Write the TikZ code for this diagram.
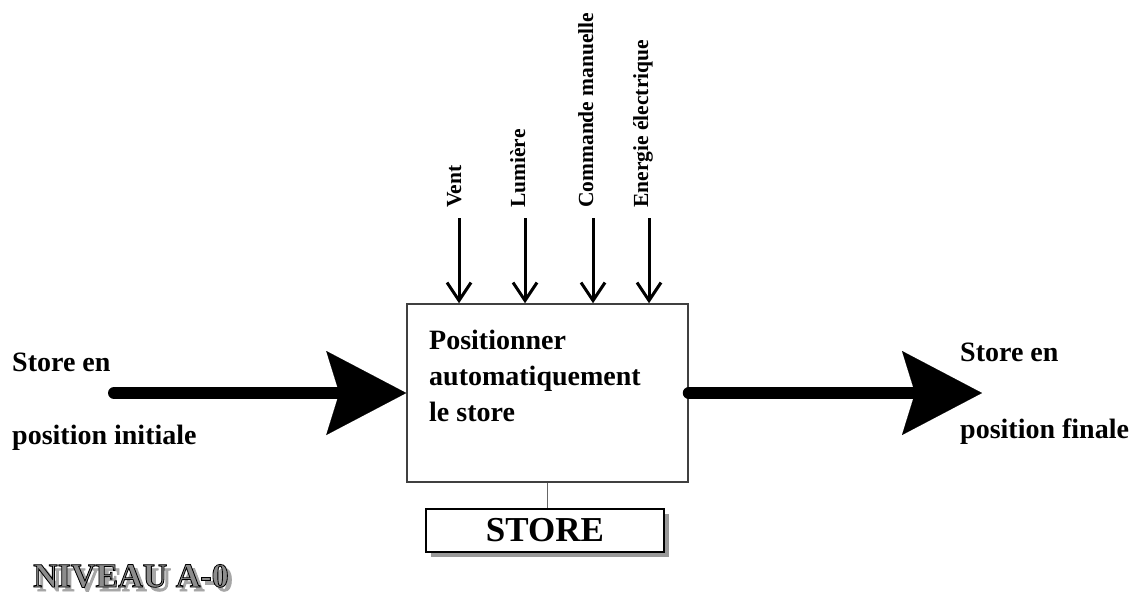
\documentclass[tikz,border=0pt]{standalone}
\usepackage{fontspec}
\setmainfont{Liberation Serif}
\newfontfamily\nivfont[FakeBold=2.5]{Liberation Serif Bold}
\usetikzlibrary{arrows.meta,shadows}
\begin{document}
\begin{tikzpicture}[x=1pt,y=-1pt,
  lbl/.style={font=\fontsize{28}{34}\selectfont\bfseries, inner sep=0pt, anchor=base west},
  vlbl/.style={font=\fontsize{21.5}{25}\selectfont\bfseries, inner sep=0pt, rotate=90, anchor=base west},
  bigarrow/.style={line width=12pt, line cap=round, -{Stealth[length=80pt,width=84pt,inset=13pt,line width=0.1pt]}},
  inarrow/.style={line width=3pt, -{Straight Barb[length=18pt,width=24pt]}},
  funcbox/.style={draw=black!75, line width=1.5pt, minimum width=281pt, minimum height=178pt, inner sep=0pt},
  supportbox/.style={draw=black, line width=2.5pt, fill=white, minimum width=238pt, minimum height=43pt, inner sep=0pt,
    font=\fontsize{35}{40}\selectfont\bfseries,
    drop shadow={shadow xshift=5pt, shadow yshift=-5pt, opacity=1, fill=black!40}},
  link/.style={draw=black!60, line width=1.5pt},
  niv/.style={font=\fontsize{34}{40}\selectfont\nivfont, inner sep=0pt, anchor=base west}
]
\fill[white] (0,0) rectangle (1134,603);
\useasboundingbox (0,0) rectangle (1134,603);

% function box
\node[funcbox] (fn) at (547.5,393) {};
\node[font=\fontsize{28}{36}\selectfont\bfseries, align=left, inner sep=0pt, anchor=north west] (fntext) at (429,330)
  {Positionner\\automatiquement\\le store};

% support
\node[supportbox] (st) at (545,530.5) {STORE};
\draw[link] (fn.south) -- (fn.south |- st.north);

% input / output flows
\coordinate (inL) at (114,393);
\coordinate (outR) at (982,393);
\draw[bigarrow] (inL) -- (fn.west);
\draw[bigarrow] (fn.east) -- (outR);

\node[lbl] (in1) at (12,371) {Store en};
\node[lbl] (in2) at (12,444) {position initiale};
\node[lbl] (out1) at (960,361) {Store en};
\node[lbl] (out2) at (960,438) {position finale};

% control inputs
\coordinate (v1) at (459,218);
\coordinate (v2) at (525,218);
\coordinate (v3) at (593,218);
\coordinate (v4) at (649,218);
\foreach \c in {v1,v2,v3,v4}
  \draw[inarrow] (\c) -- (\c |- fn.north);
\node[vlbl] (l1) at ([xshift=2pt,yshift=10pt]v1) {Vent};
\node[vlbl] (l2) at ([xshift=0pt,yshift=10pt]v2) {Lumière};
\node[vlbl] (l3) at ([xshift=0pt,yshift=10pt]v3) {Commande manuelle};
\node[vlbl] (l4) at ([xshift=-1pt,yshift=10pt]v4) {Energie électrique};

% level title (outlined grey letters with a grey shadow)
\node[niv, text=black!35] (nivshadow) at (37,591) {NIVEAU A-0};
\node[niv, text=black!45] (niveau) at (33,587) {\special{pdf:code 0 0 0 RG}NIVEAU A-0};
\end{tikzpicture}
\end{document}
